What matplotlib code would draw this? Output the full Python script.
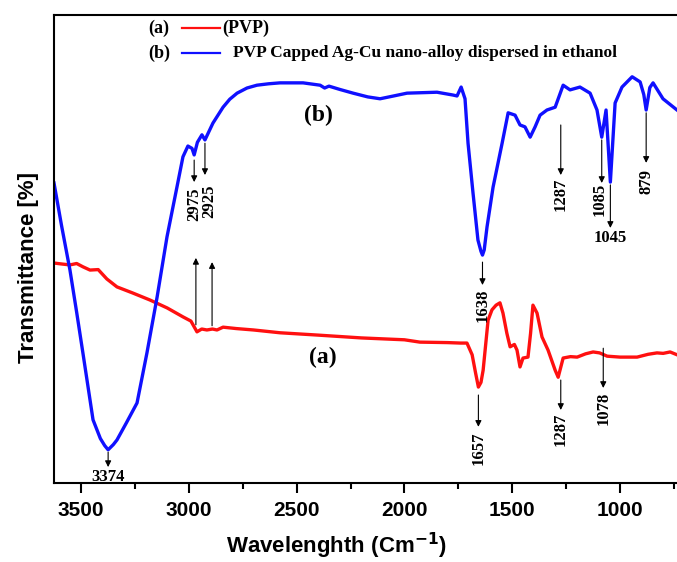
#!/bin/python3
"""
FTIR spectra of pure PVP and of the PVP capped Ag-Cu nano-alloy
dispersed in ethanol, with the main bands marked by arrows.
"""
import matplotlib.pyplot as plt
from matplotlib.lines import Line2D

# (a) PVP : wavenumber (cm-1) and transmittance (% of frame height)
pvp_wn = [3625, 3590, 3551, 3520, 3491, 3458, 3420, 3380, 3333, 3260, 3180, 3100,
          3027, 2990, 2962, 2940, 2916, 2890, 2869, 2841, 2780, 2700, 2577, 2400,
          2200, 2000, 1928, 1800, 1740, 1710, 1686, 1670, 1657, 1645, 1635, 1612,
          1594, 1575, 1557, 1543, 1525, 1510, 1490, 1478, 1464, 1450, 1427, 1415,
          1404, 1385, 1362, 1334, 1301, 1287, 1264, 1230, 1199, 1160, 1125, 1095,
          1060, 1000, 921, 870, 829, 800, 768, 736]
pvp_t = [47.0, 46.8, 46.6, 46.9, 46.2, 45.5, 45.6, 43.6, 41.9, 40.6, 39.1, 37.4,
         35.5, 34.6, 32.3, 32.9, 32.7, 32.9, 32.7, 33.3, 33.0, 32.7, 32.1, 31.6,
         31.0, 30.6, 30.1, 30.0, 29.9, 29.9, 27.4, 23.5, 20.5, 21.5, 24.1, 34.8,
         37.0, 38.0, 38.5, 36.3, 32.0, 29.1, 29.6, 28.4, 24.8, 26.7, 26.9, 32.0,
         38.0, 36.3, 31.2, 28.4, 24.1, 22.6, 26.7, 27.0, 26.9, 27.6, 28.0, 27.8,
         27.1, 26.9, 26.9, 27.5, 27.8, 27.7, 28.0, 27.4]

# (b) PVP capped Ag-Cu nano-alloy in ethanol
alloy_wn = [3625, 3590, 3551, 3520, 3491, 3444, 3410, 3390, 3374, 3350, 3333, 3290,
            3240, 3194, 3147, 3101, 3055, 3027, 3004, 2985, 2975, 2960, 2939, 2925,
            2888, 2841, 2810, 2776, 2730, 2684, 2630, 2577, 2470, 2391, 2370, 2350,
            2300, 2238, 2170, 2113, 2050, 1988, 1849, 1775, 1756, 1737, 1719, 1705,
            1682, 1659, 1645, 1638, 1630, 1617, 1589, 1547, 1519, 1487, 1464, 1441,
            1417, 1394, 1371, 1339, 1301, 1264, 1232, 1186, 1139, 1107, 1085, 1065,
            1045, 1023, 991, 944, 907, 890, 879, 862, 847, 801, 736]
alloy_t = [64.1, 55.0, 45.5, 36.5, 27.8, 13.5, 9.5, 8.0, 7.1, 8.2, 9.2, 12.8,
           17.1, 27.8, 39.7, 52.6, 63.2, 69.7, 72.0, 71.5, 70.1, 72.8, 74.4, 73.3,
           76.9, 80.3, 82.0, 83.3, 84.4, 85.0, 85.3, 85.5, 85.5, 85.0, 84.4, 84.8,
           84.1, 83.3, 82.5, 82.1, 82.7, 83.3, 83.5, 82.9, 82.7, 84.6, 82.1, 72.6,
           62.0, 51.9, 49.5, 48.7, 49.8, 54.7, 63.2, 72.6, 79.1, 78.6, 76.5, 76.1,
           73.9, 76.1, 78.6, 79.7, 80.3, 85.0, 84.0, 84.6, 83.3, 79.7, 73.9, 79.7,
           64.3, 81.2, 84.6, 86.8, 85.7, 83.0, 79.7, 84.5, 85.5, 82.1, 79.7]

alloy_peaks = [3374, 2975, 2925, 1638, 1287, 1085, 1045, 879]
pvp_peaks = [1657, 1287, 1078]
# 2975 / 2925 also point up to the PVP trace
pvp_up_peaks = [2975, 2925]


def arrow_layout(key: str) -> dict:
    # tail, tip, label top (in % of frame), label rotation, x shift of arrow/label
    return {
        "b3374": {"tail": 6.6, "tip": 3.4, "text": 3.0, "rot": 0, "dx": 0, "tdx": 0},
        "b2975": {"tail": 69.0, "tip": 64.3, "text": 63.2, "rot": 90, "dx": 0, "tdx": 0},
        "b2925": {"tail": 72.6, "tip": 65.8, "text": 63.8, "rot": 90, "dx": 0, "tdx": -20},
        "b1638": {"tail": 47.2, "tip": 42.3, "text": 41.5, "rot": 90, "dx": 0, "tdx": 0},
        "b1287": {"tail": 76.5, "tip": 65.8, "text": 65.2, "rot": 90, "dx": -12, "tdx": -12},
        "b1085": {"tail": 73.3, "tip": 64.1, "text": 64.1, "rot": 90, "dx": 0, "tdx": 10},
        "b1045": {"tail": 63.7, "tip": 54.5, "text": 54.0, "rot": 0, "dx": 0, "tdx": 0},
        "b879": {"tail": 79.1, "tip": 68.4, "text": 67.2, "rot": 90, "dx": 0, "tdx": 0},
        "a1657": {"tail": 18.8, "tip": 12.0, "text": 10.9, "rot": 90, "dx": 0, "tdx": 0},
        "a1287": {"tail": 22.0, "tip": 15.6, "text": 15.0, "rot": 90, "dx": -12, "tdx": -12},
        "a1078": {"tail": 28.8, "tip": 20.3, "text": 19.4, "rot": 90, "dx": 0, "tdx": 0},
        "u2975": {"tail": 33.8, "tip": 48.1, "dx": -8},
        "u2925": {"tail": 33.6, "tip": 47.2, "dx": -33},
    }[key]


def draw_arrow(ax, x, tail, tip):
    ax.annotate("", xy=(x, tip), xytext=(x, tail),
                arrowprops=dict(arrowstyle="-|>", color="black", lw=0.8,
                                mutation_scale=9, shrinkA=0, shrinkB=0))


def mark_peaks(ax, peaks, prefix):
    for peak in peaks:
        lay = arrow_layout(f"{prefix}{peak}")
        x = peak + lay["dx"]
        draw_arrow(ax, x, lay["tail"], lay["tip"])
        ax.text(peak + lay["tdx"], lay["text"], f"{peak}", rotation=lay["rot"],
                ha="center", va="top", fontsize=12, fontweight="bold",
                family="Liberation Serif")


def main():
    fig = plt.figure(figsize=(6.77, 5.62), dpi=100)
    ax = fig.add_axes([54 / 677, 79 / 562, 623 / 677, 468 / 562])

    ax.plot(pvp_wn, pvp_t, color="#ff1010", lw=2.4, solid_joinstyle="round")
    ax.plot(alloy_wn, alloy_t, color="#1010ff", lw=2.4, solid_joinstyle="round")

    ax.set_xlim(3625, 736)
    ax.set_ylim(0, 100)

    mark_peaks(ax, alloy_peaks, "b")
    mark_peaks(ax, pvp_peaks, "a")
    for peak in pvp_up_peaks:
        lay = arrow_layout(f"u{peak}")
        draw_arrow(ax, peak + lay["dx"], lay["tail"], lay["tip"])

    serif = dict(family="Liberation Serif", fontweight="bold")
    ax.text(2400, 78.5, "(b)", fontsize=17, ha="center", va="center", **serif)
    ax.text(2380, 26.9, "(a)", fontsize=17, ha="center", va="center", **serif)

    # hand drawn legend in the top left corner
    tr = ax.transAxes
    ax.text(0.151, 0.972, "(a)", transform=tr, fontsize=13, va="center", **serif)
    ax.text(0.151, 0.918, "(b)", transform=tr, fontsize=13, va="center", **serif)
    ax.add_line(Line2D([0.205, 0.266], [0.972, 0.972], transform=tr, color="#ff1010", lw=1.6))
    ax.add_line(Line2D([0.205, 0.266], [0.918, 0.918], transform=tr, color="#1010ff", lw=1.6))
    ax.text(0.270, 0.972, "(PVP)", transform=tr, fontsize=13, va="center", **serif)
    ax.text(0.287, 0.918, "PVP Capped Ag-Cu nano-alloy dispersed in ethanol",
            transform=tr, fontsize=12.5, va="center", **serif)

    ax.spines["right"].set_visible(False)
    for side in ["left", "bottom", "top"]:
        ax.spines[side].set_linewidth(1.5)
    ax.set_yticks([])
    ax.set_xticks([3500, 3000, 2500, 2000, 1500, 1000])
    ax.set_xticks([3250, 2750, 2250, 1750, 1250, 750], minor=True)
    ax.tick_params(axis="x", which="major", direction="out", length=7, width=1.5, pad=6)
    ax.tick_params(axis="x", which="minor", direction="out", length=4.5, width=1.5)
    for lbl in ax.get_xticklabels():
        lbl.set_family("Liberation Sans")
        lbl.set_fontweight("bold")
        lbl.set_fontsize(15)

    sans = dict(family="Liberation Sans", fontweight="bold", fontsize=16)
    ax.set_ylabel("Transmittance [%]", **sans)
    ax.yaxis.set_label_coords(-0.024, 0.46)
    ax.set_xlabel(r"Wavelenghth $\mathregular{(}$Cm$^{\mathbf{-1}}$$\mathregular{)}$", **sans)
    ax.xaxis.set_label_coords(0.454, -0.102)
    ax.xaxis.label.set_va("top")

    plt.savefig("out.png", dpi=100)
    plt.close()


if __name__ == "__main__":
    main()
